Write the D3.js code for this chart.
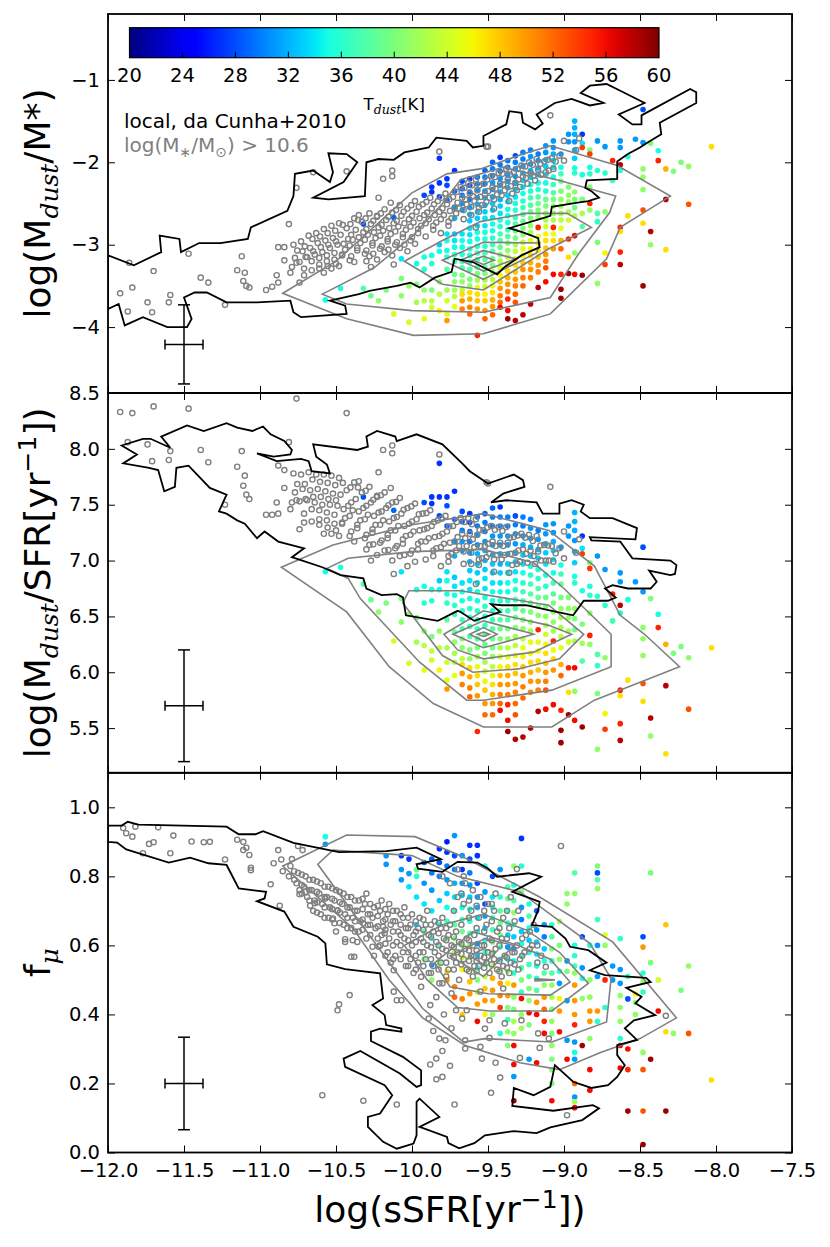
<!DOCTYPE html>
<html>
<head>
<meta charset="utf-8">
<script src="https://cdn.jsdelivr.net/npm/d3@7"></script>
<style>
  body { margin: 0; background: white; }
  text { font-family: "DejaVu Sans", sans-serif; }
</style>
</head>
<body>
<div id="container"></div>
<script>
// ---------- tick labels ----------
const xTicks = [-12, -11.5, -11, -10.5, -10, -9.5, -9, -8.5, -8, -7.5]
const yTicksTop = [-4, -3, -2, -1]
const yTicksMid = [5.5, 6, 6.5, 7, 7.5, 8, 8.5]
const yTicksBot = [0, 0.2, 0.4, 0.6, 0.8, 1.0]
const cbTicks = [20, 24, 28, 32, 36, 40, 44, 48, 52, 56, 60]

// ---------- local sample (da Cunha+2010): [log sSFR, log Mdust/M*] ----------
const localTop = [
  [-11.92,-3.59],[-11.84,-3.52],[-11.86,-3.22],[-11.87,-3.81],[-11.74,-3.70],[-11.71,-3.82],[-11.70,-3.32],
  [-11.60,-3.70],[-11.59,-3.61],[-11.47,-3.11],[-11.39,-3.40],[-11.34,-3.46],[-11.23,-3.73],[-11.12,-3.14],
  [-11.15,-3.31],[-11.10,-3.34],[-11.11,-3.44],[-11.09,-3.50],[-11.07,-3.52],[-10.96,-3.55],[-10.92,-3.51],
  [-10.89,-3.37],[-10.88,-3.46],[-10.88,-3.03],[-10.84,-3.03],[-10.84,-3.19],[-10.80,-3.34],[-10.74,-3.46],
  [-10.81,-2.75],[-10.76,-2.31],[-10.65,-2.12],[-10.43,-2.11],[-10.22,-2.43],[-10.19,-2.20],[-10.13,-2.10],
  [-10.13,-2.17],[-10.14,-2.49],[-10.35,-2.64],[-10.23,-2.65],[-9.82,-1.87],[-9.09,-1.43],[-9.51,-1.81],
  [-9.00,-1.74],[-8.90,-1.71],[-8.92,-1.85],[-9.50,-1.81],
  [-10.78,-3.00],[-10.77,-3.16],[-10.79,-3.27],[-10.73,-2.96],[-10.72,-3.08],[-10.74,-3.21],[-10.71,-3.37],
  [-10.68,-2.89],[-10.67,-3.04],[-10.69,-3.15],[-10.66,-3.31],[-10.63,-2.86],[-10.62,-2.98],[-10.64,-3.12],
  [-10.61,-3.24],[-10.58,-2.81],[-10.57,-2.95],[-10.59,-3.09],[-10.56,-3.20],[-10.58,-3.34],[-10.53,-2.77],
  [-10.52,-2.92],[-10.54,-3.04],[-10.51,-3.18],[-10.53,-3.29],[-10.48,-2.74],[-10.47,-2.88],[-10.49,-3.00],
  [-10.46,-3.13],[-10.48,-3.26],[-10.43,-2.80],[-10.42,-2.93],[-10.44,-3.06],[-10.41,-3.19],[-10.38,-2.68],
  [-10.37,-2.82],[-10.39,-2.94],[-10.36,-3.07],[-10.38,-3.21],[-10.33,-2.72],[-10.32,-2.85],[-10.34,-2.98],
  [-10.31,-3.11],[-10.28,-2.62],[-10.27,-2.75],[-10.29,-2.88],[-10.26,-3.01],[-10.28,-3.14],[-10.27,-3.27],
  [-10.23,-2.66],[-10.22,-2.79],[-10.24,-2.92],[-10.21,-3.05],[-10.23,-3.18],[-10.18,-2.57],[-10.17,-2.70],
  [-10.19,-2.83],[-10.16,-2.96],[-10.18,-3.09],[-10.13,-2.61],[-10.12,-2.74],[-10.14,-2.87],[-10.11,-3.00],
  [-10.13,-3.13],[-10.12,-3.24],[-10.08,-2.52],[-10.07,-2.65],[-10.09,-2.78],[-10.06,-2.91],[-10.08,-3.04],
  [-10.03,-2.56],[-10.02,-2.69],[-10.04,-2.82],[-10.01,-2.95],[-10.03,-3.08],[-9.98,-2.47],[-9.97,-2.60],
  [-9.99,-2.73],[-9.96,-2.86],[-9.98,-2.99],[-9.93,-2.51],[-9.92,-2.64],[-9.94,-2.77],[-9.91,-2.90],
  [-9.88,-2.43],[-9.87,-2.56],[-9.89,-2.69],[-9.86,-2.82],[-9.83,-2.47],[-9.82,-2.60],[-9.84,-2.73],
  [-9.81,-2.86],[-9.78,-2.38],[-9.77,-2.51],[-9.79,-2.64],[-9.76,-2.77],[-9.73,-2.42],[-9.72,-2.55],
  [-9.74,-2.68],[-9.68,-2.30],[-9.67,-2.43],[-9.69,-2.56],[-9.66,-2.69],[-9.63,-2.25],[-9.62,-2.38],
  [-9.64,-2.51],[-9.61,-2.64],[-9.58,-2.21],[-9.57,-2.34],[-9.59,-2.47],[-9.56,-2.60],[-9.58,-2.79],
  [-9.53,-2.26],[-9.52,-2.39],[-9.54,-2.52],[-9.48,-2.17],[-9.47,-2.30],[-9.49,-2.43],[-9.46,-2.56],
  [-9.43,-2.13],[-9.42,-2.26],[-9.44,-2.39],[-9.38,-2.08],[-9.37,-2.21],[-9.39,-2.34],[-9.36,-2.47],
  [-9.33,-2.12],[-9.32,-2.25],[-9.34,-2.38],[-9.28,-2.04],[-9.27,-2.17],[-9.29,-2.30],[-9.23,-2.00],
  [-9.22,-2.13],[-9.24,-2.26],[-9.18,-1.96],[-9.17,-2.09],[-9.19,-2.22],[-9.13,-1.99],[-9.12,-2.12],
  [-9.08,-1.95],[-9.07,-2.08],[-9.03,-1.92],
  [-10.755,-3.07],[-10.76,-3.22],[-10.705,-3.02],[-10.70,-3.15],[-10.71,-3.29],[-10.655,-2.93],[-10.65,-3.08],
  [-10.66,-3.20],[-10.605,-2.90],[-10.60,-3.03],[-10.61,-3.16],[-10.61,-3.29],[-10.555,-2.86],[-10.55,-3.00],
  [-10.56,-3.13],[-10.555,-3.26],[-10.505,-2.83],[-10.50,-2.96],[-10.51,-3.10],[-10.50,-3.23],[-10.455,-2.76],
  [-10.45,-2.99],[-10.46,-3.12],[-10.405,-2.75],[-10.40,-2.88],[-10.41,-3.01],[-10.40,-3.14],[-10.355,-2.70],
  [-10.35,-2.91],[-10.36,-3.04],[-10.305,-2.68],[-10.30,-2.81],[-10.31,-2.94],[-10.30,-3.07],[-10.30,-3.20],
  [-10.255,-2.71],[-10.25,-2.85],[-10.26,-2.98],[-10.255,-3.11],[-10.205,-2.62],[-10.20,-2.76],[-10.21,-2.89],
  [-10.20,-3.02],[-10.155,-2.66],[-10.15,-2.80],[-10.16,-2.93],[-10.155,-3.06],[-10.105,-2.58],[-10.10,-2.71],
  [-10.11,-2.84],[-10.10,-2.97],[-10.055,-2.60],[-10.05,-2.74],[-10.06,-2.87],[-10.05,-3.00],[-10.005,-2.52],
  [-10.00,-2.65],[-10.01,-2.78],[-10.00,-2.91],[-9.955,-2.54],[-9.95,-2.68],[-9.96,-2.81],[-9.905,-2.48],
  [-9.90,-2.61],[-9.91,-2.74],[-9.855,-2.51],[-9.85,-2.64],[-9.86,-2.77],[-9.805,-2.43],[-9.80,-2.56],
  [-9.81,-2.69],[-9.755,-2.45],[-9.75,-2.59],[-9.76,-2.72],[-9.705,-2.36],[-9.70,-2.49],[-9.71,-2.62],
  [-9.655,-2.31],[-9.65,-2.45],[-9.66,-2.58],[-9.605,-2.28],[-9.60,-2.41],[-9.61,-2.54],[-9.555,-2.28],
  [-9.55,-2.42],[-9.56,-2.55],[-9.505,-2.21],[-9.50,-2.35],[-9.51,-2.48],[-9.455,-2.18],[-9.45,-2.32],
  [-9.46,-2.45],[-9.405,-2.14],[-9.40,-2.27],[-9.41,-2.40],[-9.355,-2.15],[-9.35,-2.29],[-9.305,-2.08],
  [-9.30,-2.21],[-9.31,-2.34],[-9.255,-2.05],[-9.25,-2.19],[-9.205,-2.03],[-9.20,-2.16],[-9.155,-2.02],
  [-9.15,-2.15],[-9.105,-1.97],[-9.10,-2.10],[-9.055,-1.99],[-9.00,-1.98]
]

// ---------- local sample: [log sSFR, f_mu] ----------
const localBot = [
  [-11.90,0.940],[-11.88,0.925],[-11.84,0.915],[-11.82,0.944],[-11.77,0.867],[-11.73,0.894],[-11.70,0.899],
  [-11.67,0.942],[-11.59,0.867],[-11.57,0.918],[-11.45,0.901],[-11.37,0.899],[-11.33,0.900],[-11.23,0.849],
  [-11.15,0.906],[-11.11,0.900],[-11.11,0.876],[-11.09,0.883],[-11.07,0.862],[-11.06,0.825],[-11.06,0.818],
  [-10.93,0.777],[-10.88,0.876],[-10.87,0.715],[-10.91,0.838],[-10.86,0.849],[-10.85,0.815],[-10.79,0.850],
  [-10.75,0.888],[-10.72,0.876],[-10.74,0.748],[-10.70,0.755],[-10.67,0.715],[-10.64,0.722],[-10.57,0.736],
  [-10.52,0.678],[-10.51,0.664],[-10.49,0.702],[-10.44,0.618],[-10.44,0.610],[-10.39,0.615],[-10.40,0.567],
  [-10.38,0.567],[-10.41,0.456],[-10.48,0.429],[-10.49,0.412],[-10.59,0.166],[-10.32,0.150],[-10.10,0.139],
  [-9.72,0.139],[-10.12,0.528],[-10.12,0.466],[-10.10,0.441],[-10.07,0.441],[-9.94,0.509],[-9.88,0.427],
  [-9.89,0.388],[-9.86,0.352],[-9.82,0.330],[-9.78,0.325],[-9.88,0.255],[-9.84,0.272],[-9.80,0.294],
  [-9.75,0.251],[-9.84,0.212],[-9.80,0.219],[-9.82,0.490],[-9.80,0.490],[-9.74,0.461],[-9.71,0.412],
  [-9.67,0.388],[-9.65,0.301],[-10.26,0.596],[-10.22,0.596],[-10.18,0.635],[-10.32,0.664],[-10.29,0.659],
  [-10.19,0.654],[-9.02,0.888],[-9.31,0.821],[-8.33,0.396],[-8.98,0.108],[-9.48,0.173],[-9.42,0.217],
  [-9.29,0.274],[-9.45,0.260],[-9.54,0.272],[-9.55,0.306],[-9.65,0.325],[-9.52,0.359],[-9.49,0.332],
  [-9.49,0.383],[-9.16,0.303],[-9.10,0.330],[-9.17,0.345],[-9.28,0.383],[-9.39,0.374],[-9.12,0.538],
  [-9.40,0.475],[-9.55,0.466],[-9.64,0.412],[-9.80,0.800],[-9.75,0.780],[-9.70,0.820],[-9.66,0.800],
  [-10.80,0.830],[-10.81,0.800],[-10.75,0.810],[-10.76,0.780],[-10.74,0.760],[-10.70,0.800],[-10.71,0.770],
  [-10.69,0.740],[-10.65,0.790],[-10.66,0.760],[-10.64,0.730],[-10.65,0.700],[-10.60,0.780],[-10.61,0.750],
  [-10.59,0.720],[-10.60,0.690],[-10.55,0.770],[-10.56,0.740],[-10.54,0.710],[-10.55,0.680],[-10.50,0.760],
  [-10.51,0.730],[-10.49,0.700],[-10.50,0.640],[-10.45,0.750],[-10.46,0.720],[-10.44,0.690],[-10.45,0.660],
  [-10.40,0.740],[-10.41,0.710],[-10.39,0.680],[-10.40,0.650],[-10.35,0.730],[-10.36,0.700],[-10.34,0.670],
  [-10.35,0.640],[-10.36,0.610],[-10.30,0.750],[-10.31,0.720],[-10.29,0.690],[-10.30,0.620],[-10.25,0.710],
  [-10.26,0.680],[-10.24,0.650],[-10.25,0.570],[-10.20,0.730],[-10.21,0.700],[-10.19,0.670],[-10.20,0.630],
  [-10.21,0.600],[-10.15,0.720],[-10.16,0.690],[-10.14,0.660],[-10.15,0.620],[-10.16,0.580],[-10.14,0.550],
  [-10.10,0.700],[-10.11,0.670],[-10.09,0.640],[-10.10,0.610],[-10.11,0.570],[-10.05,0.710],[-10.06,0.680],
  [-10.04,0.650],[-10.05,0.620],[-10.06,0.580],[-10.04,0.540],[-10.00,0.690],[-10.01,0.660],[-9.99,0.630],
  [-10.00,0.600],[-10.01,0.560],[-9.99,0.520],[-9.95,0.680],[-9.96,0.650],[-9.94,0.620],[-9.95,0.580],
  [-9.96,0.550],[-9.94,0.480],[-9.90,0.700],[-9.91,0.660],[-9.89,0.630],[-9.90,0.600],[-9.91,0.560],
  [-9.89,0.520],[-9.85,0.670],[-9.86,0.640],[-9.84,0.610],[-9.85,0.580],[-9.86,0.540],[-9.84,0.450],
  [-9.80,0.680],[-9.81,0.650],[-9.79,0.620],[-9.80,0.590],[-9.81,0.550],[-9.79,0.400],[-9.75,0.660],
  [-9.76,0.630],[-9.74,0.600],[-9.75,0.570],[-9.76,0.530],[-9.74,0.360],[-9.70,0.740],[-9.71,0.640],
  [-9.69,0.610],[-9.70,0.580],[-9.71,0.550],[-9.69,0.500],[-9.65,0.780],[-9.66,0.720],[-9.64,0.620],
  [-9.65,0.590],[-9.66,0.560],[-9.64,0.530],[-9.60,0.760],[-9.61,0.700],[-9.59,0.630],[-9.60,0.600],
  [-9.61,0.570],[-9.59,0.540],[-9.60,0.510],[-9.55,0.740],[-9.56,0.680],[-9.54,0.600],[-9.55,0.570],
  [-9.56,0.540],[-9.50,0.720],[-9.51,0.660],[-9.49,0.620],[-9.50,0.580],[-9.51,0.550],[-9.49,0.520],
  [-9.45,0.750],[-9.46,0.700],[-9.44,0.640],[-9.45,0.590],[-9.46,0.560],[-9.44,0.530],[-9.40,0.680],
  [-9.41,0.620],[-9.39,0.570],[-9.40,0.540],[-9.41,0.510],[-9.35,0.740],[-9.36,0.650],[-9.34,0.580],
  [-9.35,0.550],[-9.36,0.520],[-9.30,0.700],[-9.31,0.600],[-9.29,0.560],[-9.30,0.530],[-9.25,0.630],
  [-9.26,0.580],[-9.20,0.660],[-9.21,0.600],[-9.15,0.570],
  [-10.775,0.815],[-10.775,0.790],[-10.725,0.805],[-10.725,0.775],[-10.725,0.750],[-10.675,0.790],[-10.675,0.760],
  [-10.675,0.730],[-10.625,0.785],[-10.625,0.755],[-10.625,0.725],[-10.625,0.695],[-10.575,0.770],[-10.575,0.740],
  [-10.575,0.710],[-10.575,0.680],[-10.525,0.765],[-10.525,0.735],[-10.525,0.705],[-10.525,0.675],[-10.475,0.755],
  [-10.475,0.725],[-10.475,0.695],[-10.475,0.665],[-10.425,0.740],[-10.425,0.710],[-10.425,0.680],[-10.425,0.650],
  [-10.375,0.730],[-10.375,0.700],[-10.375,0.670],[-10.375,0.640],[-10.325,0.735],[-10.325,0.705],[-10.325,0.675],
  [-10.325,0.645],[-10.275,0.720],[-10.275,0.690],[-10.275,0.660],[-10.275,0.630],[-10.225,0.715],[-10.225,0.685],
  [-10.225,0.655],[-10.225,0.620],[-10.175,0.705],[-10.175,0.675],[-10.175,0.645],[-10.175,0.605],[-10.175,0.570],
  [-10.125,0.700],[-10.125,0.670],[-10.125,0.640],[-10.125,0.600],[-10.125,0.560],[-10.075,0.690],[-10.075,0.660],
  [-10.075,0.630],[-10.075,0.600],[-10.075,0.560],[-10.025,0.680],[-10.025,0.650],[-10.025,0.615],[-10.025,0.580],
  [-10.025,0.540],[-9.975,0.670],[-9.975,0.640],[-9.975,0.610],[-9.975,0.570],[-9.975,0.530],[-9.925,0.675],
  [-9.925,0.645],[-9.925,0.610],[-9.925,0.580],[-9.925,0.540],[-9.875,0.660],[-9.875,0.625],[-9.875,0.595],
  [-9.875,0.560],[-9.875,0.520],[-9.825,0.665],[-9.825,0.635],[-9.825,0.600],[-9.825,0.570],[-9.825,0.530],
  [-9.775,0.650],[-9.775,0.615],[-9.775,0.585],[-9.775,0.550],[-9.775,0.510],[-9.725,0.700],[-9.725,0.625],
  [-9.725,0.595],[-9.725,0.565],[-9.725,0.530],[-9.675,0.750],[-9.675,0.660],[-9.675,0.605],[-9.675,0.575],
  [-9.675,0.545],[-9.625,0.730],[-9.625,0.680],[-9.625,0.615],[-9.625,0.585],[-9.625,0.555],[-9.625,0.525],
  [-9.575,0.715],[-9.575,0.650],[-9.575,0.585],[-9.575,0.555],[-9.575,0.525],[-9.525,0.700],[-9.525,0.640],
  [-9.525,0.600],[-9.525,0.565],[-9.525,0.535],[-9.475,0.720],[-9.475,0.670],[-9.475,0.615],[-9.475,0.575],
  [-9.475,0.545],[-9.425,0.650],[-9.425,0.600],[-9.425,0.555],[-9.425,0.525],[-9.375,0.700],[-9.375,0.620],
  [-9.375,0.565],[-9.375,0.535],[-9.325,0.670],[-9.325,0.580],[-9.325,0.545],[-9.275,0.620],[-9.275,0.570],
  [-9.225,0.640],[-9.225,0.590],[-9.175,0.600],[-9.175,0.550]
]

// ---------- high-z sample, columns: [log sSFR, [[log Mdust/M*, Tdust], ...]] ----------
const hzTop = [
  [-10.57, [[-3.67,35]]],
  [-10.47, [[-3.53,35]]],
  [-10.32, [[-2.75,28],[-3.53,38]]],
  [-10.27, [[-3.62,39]]],
  [-10.22, [[-3.68,41]]],
  [-10.17, [[-3.55,40]]],
  [-10.12, [[-2.67,29],[-3.84,44]]],
  [-10.07, [[-3.17,34],[-3.41,40],[-3.62,41]]],
  [-10.02, [[-3.50,41],[-3.94,44]]],
  [-9.97, [[-3.23,35],[-3.48,40],[-3.70,42]]],
  [-9.92, [[-2.40,28],[-3.15,35],[-3.30,36],[-3.55,41],[-3.68,43],[-3.90,45]]],
  [-9.87, [[-2.30,27],[-2.36,27],[-3.13,35],[-3.23,36],[-3.55,40],[-3.68,43],[-3.76,44]]],
  [-9.82, [[-1.95,27],[-2.25,27],[-2.42,28],[-3.00,33],[-3.08,35],[-3.45,41],[-3.60,43],[-3.80,46]]],
  [-9.77, [[-2.20,27],[-2.28,28],[-2.46,29],[-2.87,34],[-2.95,35],[-3.07,35],[-3.15,36],[-3.30,38],[-3.55,42],[-3.68,44],[-3.84,45],[-3.92,50]]],
  [-9.72, [[-2.10,27],[-2.35,29],[-2.55,31],[-2.68,32],[-2.87,33],[-2.95,34],[-3.03,35],[-3.12,36],[-3.20,37],[-3.36,39],[-3.45,41],[-3.55,42],[-3.63,43],[-3.75,45]]],
  [-9.67, [[-2.23,28],[-2.32,29],[-2.40,30],[-2.50,31],[-2.58,31],[-2.87,34],[-2.95,35],[-3.03,35],[-3.12,36],[-3.20,37],[-3.28,38],[-3.37,40],[-3.45,41],[-3.55,43],[-3.60,47],[-3.68,50],[-3.78,51]]],
  [-9.62, [[-2.20,27],[-2.28,28],[-2.36,29],[-2.45,30],[-2.55,31],[-2.63,32],[-2.71,33],[-2.80,34],[-2.88,34],[-2.96,35],[-3.05,36],[-3.13,36],[-3.21,37],[-3.30,38],[-3.42,40],[-3.50,41],[-3.58,47],[-3.66,49],[-3.76,51],[-3.84,52]]],
  [-9.57, [[-2.18,30],[-2.26,30],[-2.34,31],[-2.43,31],[-2.51,32],[-2.60,33],[-2.68,33],[-2.77,34],[-2.85,35],[-2.93,35],[-3.02,36],[-3.10,37],[-3.18,37],[-3.27,38],[-3.35,40],[-3.43,42],[-3.52,45],[-3.60,47],[-3.68,48],[-3.78,50],[-4.10,55]]],
  [-9.52, [[-2.10,29],[-2.18,30],[-2.26,30],[-2.35,31],[-2.43,32],[-2.52,32],[-2.60,33],[-2.68,34],[-2.77,34],[-2.85,35],[-2.93,36],[-3.02,36],[-3.10,37],[-3.18,38],[-3.27,39],[-3.35,40],[-3.43,42],[-3.51,44],[-3.60,46],[-3.68,48],[-3.80,50],[-3.90,52]]],
  [-9.47, [[-2.00,29],[-2.08,30],[-2.16,30],[-2.25,31],[-2.33,31],[-2.42,32],[-2.50,33],[-2.58,33],[-2.67,34],[-2.75,35],[-2.83,35],[-2.92,36],[-3.00,37],[-3.08,38],[-3.17,39],[-3.25,40],[-3.33,41],[-3.42,43],[-3.50,45],[-3.58,47],[-3.67,49],[-3.75,50],[-3.85,52]]],
  [-9.42, [[-1.94,27],[-2.03,30],[-2.11,30],[-2.20,31],[-2.28,31],[-2.36,32],[-2.45,32],[-2.53,33],[-2.62,34],[-2.70,35],[-2.78,36],[-2.87,37],[-2.95,38],[-3.03,39],[-3.12,40],[-3.20,42],[-3.28,44],[-3.37,46],[-3.45,48],[-3.53,50],[-3.62,51],[-3.70,52],[-3.76,56]]],
  [-9.37, [[-1.98,30],[-2.06,30],[-2.15,31],[-2.23,31],[-2.31,32],[-2.40,33],[-2.48,34],[-2.57,35],[-2.65,35],[-2.73,36],[-2.82,37],[-2.90,38],[-2.98,40],[-3.07,41],[-3.15,43],[-3.23,45],[-3.32,47],[-3.40,49],[-3.48,50],[-3.57,51],[-3.66,55],[-3.80,56],[-3.90,59]]],
  [-9.32, [[-1.92,28],[-2.00,30],[-2.08,31],[-2.17,31],[-2.25,32],[-2.33,33],[-2.42,34],[-2.50,35],[-2.58,36],[-2.67,37],[-2.75,38],[-2.83,39],[-2.92,40],[-3.00,42],[-3.08,43],[-3.17,45],[-3.25,47],[-3.33,48],[-3.42,50],[-3.50,51],[-3.60,52],[-3.70,53],[-3.92,58]]],
  [-9.27, [[-1.88,30],[-1.96,30],[-2.05,31],[-2.13,32],[-2.22,33],[-2.30,34],[-2.38,35],[-2.47,36],[-2.55,37],[-2.63,38],[-2.72,39],[-2.80,40],[-2.88,41],[-2.97,43],[-3.05,45],[-3.13,46],[-3.22,48],[-3.30,50],[-3.40,51],[-3.50,52],[-3.85,58]]],
  [-9.22, [[-1.85,30],[-1.93,31],[-2.02,31],[-2.10,32],[-2.18,33],[-2.27,35],[-2.35,36],[-2.43,37],[-2.52,38],[-2.60,39],[-2.68,40],[-2.77,41],[-2.85,42],[-2.95,45],[-3.05,46],[-3.13,47],[-3.22,49],[-3.30,50],[-3.40,51],[-3.72,58]]],
  [-9.17, [[-1.90,30],[-1.98,31],[-2.07,32],[-2.15,33],[-2.25,35],[-2.33,36],[-2.42,38],[-2.50,39],[-2.58,40],[-2.66,41],[-2.79,55],[-2.90,45],[-2.98,46],[-3.07,47],[-3.15,48],[-3.25,50],[-3.33,51],[-3.52,58]]],
  [-9.12, [[-1.80,31],[-1.88,31],[-1.97,32],[-2.05,33],[-2.15,34],[-2.25,35],[-2.35,36],[-2.45,39],[-2.53,40],[-2.62,41],[-2.70,42],[-2.78,44],[-2.87,46],[-2.95,47],[-3.04,48],[-3.12,50],[-3.20,51],[-3.28,53],[-3.45,56]]],
  [-9.07, [[-1.74,31],[-1.82,31],[-1.90,32],[-1.98,33],[-2.06,34],[-2.18,35],[-2.27,37],[-2.37,38],[-2.45,40],[-2.53,41],[-2.62,41],[-2.70,42],[-2.79,55],[-2.87,45],[-2.95,47],[-3.05,50],[-3.36,56]]],
  [-9.02, [[-1.90,31],[-2.06,35],[-2.14,37],[-2.23,39],[-2.35,40],[-2.45,41],[-2.53,42],[-2.62,42],[-2.70,43],[-2.80,45],[-2.95,49],[-3.05,52],[-3.36,55],[-3.54,59],[-3.65,59]]],
  [-8.97, [[-1.66,31],[-1.75,31],[-2.30,40],[-2.40,41],[-2.48,41],[-2.60,42],[-2.70,44],[-2.93,55],[-3.15,47],[-3.35,59]]],
  [-8.93, [[-1.50,32],[-1.58,32],[-1.66,32],[-1.75,31],[-1.85,32],[-1.95,33],[-2.07,35],[-2.13,36],[-2.36,41],[-2.45,40],[-2.55,39],[-2.65,42],[-2.89,56],[-3.10,41],[-3.36,56]]],
  [-8.88, [[-1.66,27],[-1.77,34],[-1.82,54],[-2.15,35],[-2.45,40],[-2.62,42],[-2.78,38],[-3.37,59]]],
  [-8.83, [[-1.85,40],[-1.90,54],[-2.06,35],[-2.14,36],[-2.30,41],[-2.50,55],[-2.58,41]]],
  [-8.78, [[-1.74,31],[-2.10,36],[-2.62,38],[-2.72,36],[-2.97,40],[-3.47,41]]],
  [-8.73, [[-1.81,31],[-2.13,36],[-2.60,41],[-3.10,46],[-3.24,54]]],
  [-8.68, [[-1.98,55],[-2.22,37]]],
  [-8.63, [[-1.74,31],[-1.82,31],[-2.03,58],[-2.10,36],[-2.79,55],[-2.84,47],[-3.09,55],[-3.24,58]]],
  [-8.58, [[-1.93,35],[-2.65,47]]],
  [-8.53, [[-1.72,31]]],
  [-8.48, [[-1.36,28],[-1.76,31],[-2.08,41],[-2.18,41],[-2.33,41],[-2.58,53],[-2.74,47],[-3.50,59]]],
  [-8.43, [[-1.77,40],[-2.84,58],[-3.00,41]]],
  [-8.38, [[-1.86,35],[-1.98,55]]],
  [-8.33, [[-2.08,49],[-2.45,58],[-3.06,47]]],
  [-8.28, [[-2.11,40]]],
  [-8.23, [[-2.00,40]]],
  [-8.18, [[-2.05,41],[-2.51,53]]],
  [-8.03, [[-1.81,47]]]
]

// ---------- high-z sample, columns: [log sSFR, [[f_mu, Tdust], ...]] ----------
const hzBot = [
  [-10.57, [[0.915,35],[0.893,31]]],
  [-10.17, [[0.860,31],[0.835,31]]],
  [-10.07, [[0.860,27],[0.820,31],[0.790,31]]],
  [-10.02, [[0.850,27],[0.808,31],[0.770,34]]],
  [-9.97, [[0.820,39],[0.800,36],[0.740,34],[0.660,33]]],
  [-9.92, [[0.840,28],[0.780,31],[0.720,34],[0.640,38],[0.560,40]]],
  [-9.87, [[0.850,29],[0.810,30],[0.760,31],[0.700,34],[0.620,36],[0.543,31],[0.500,41]]],
  [-9.82, [[0.880,27],[0.840,28],[0.800,30],[0.730,33],[0.660,35],[0.600,38],[0.550,40]]],
  [-9.77, [[0.900,26],[0.870,27],[0.830,30],[0.790,31],[0.750,33],[0.710,35],[0.670,37],[0.620,40],[0.524,47],[0.500,50]]],
  [-9.72, [[0.918,31],[0.860,28],[0.820,30],[0.780,32],[0.740,34],[0.700,36],[0.660,38],[0.620,40],[0.580,42],[0.480,51],[0.450,52]]],
  [-9.67, [[0.860,31],[0.820,27],[0.780,31],[0.745,33],[0.710,35],[0.675,37],[0.640,39],[0.600,41],[0.565,44],[0.530,46],[0.445,51],[0.400,48]]],
  [-9.62, [[0.890,27],[0.850,28],[0.810,30],[0.775,31],[0.740,33],[0.705,35],[0.670,36],[0.635,38],[0.600,41],[0.565,43],[0.530,45],[0.495,48],[0.460,50]]],
  [-9.57, [[0.890,27],[0.860,27],[0.780,28],[0.740,31],[0.710,32],[0.680,34],[0.640,35],[0.605,31],[0.570,33],[0.535,36],[0.500,40],[0.465,44],[0.430,50],[0.380,56]]],
  [-9.52, [[0.830,35],[0.755,31],[0.720,28],[0.685,31],[0.650,33],[0.615,35],[0.580,36],[0.545,38],[0.510,43],[0.475,48],[0.440,50],[0.400,46]]],
  [-9.47, [[0.800,28],[0.740,34],[0.710,35],[0.680,36],[0.645,37],[0.610,40],[0.575,41],[0.540,43],[0.505,49],[0.470,50],[0.440,49],[0.400,41]]],
  [-9.42, [[0.820,31],[0.740,36],[0.700,38],[0.665,39],[0.630,40],[0.595,37],[0.560,35],[0.525,41],[0.490,50],[0.455,51],[0.420,54],[0.345,36]]],
  [-9.37, [[0.770,38],[0.735,39],[0.700,37],[0.665,36],[0.630,33],[0.595,31],[0.560,35],[0.525,41],[0.490,46],[0.455,50],[0.420,40],[0.385,37],[0.350,41],[0.310,40]]],
  [-9.33, [[0.830,41],[0.775,35],[0.730,38],[0.695,41],[0.660,36],[0.625,33],[0.590,31],[0.555,35],[0.520,36],[0.485,50],[0.450,41],[0.415,40],[0.380,42],[0.345,41],[0.310,56],[0.255,56],[0.220,31],[0.150,59]]],
  [-9.28, [[0.910,27],[0.830,36],[0.755,40],[0.710,31],[0.675,30],[0.640,33],[0.605,35],[0.570,36],[0.535,38],[0.500,40],[0.465,37],[0.446,56],[0.400,41],[0.360,42]]],
  [-9.23, [[0.720,36],[0.685,38],[0.650,35],[0.615,33],[0.580,35],[0.545,37],[0.510,38],[0.475,40],[0.440,41],[0.405,56],[0.370,40],[0.270,31]]],
  [-9.18, [[0.700,29],[0.645,31],[0.610,33],[0.575,34],[0.540,35],[0.505,36],[0.470,38],[0.435,50],[0.400,56],[0.260,56]]],
  [-9.13, [[0.660,31],[0.625,30],[0.590,33],[0.555,36],[0.520,38],[0.485,41],[0.450,50],[0.415,52],[0.380,55],[0.345,56]]],
  [-9.08, [[0.660,36],[0.625,38],[0.590,40],[0.555,36],[0.520,38],[0.485,41],[0.450,42],[0.415,40],[0.380,41],[0.345,40],[0.310,41],[0.270,40],[0.240,40],[0.200,40],[0.150,56]]],
  [-9.03, [[0.670,42],[0.600,40],[0.560,41],[0.525,36],[0.490,31],[0.446,46],[0.410,50],[0.350,56]]],
  [-8.98, [[0.750,41],[0.720,41],[0.555,31],[0.525,40],[0.440,31],[0.325,31],[0.270,56]]],
  [-8.93, [[0.810,38],[0.750,41],[0.600,35],[0.570,36],[0.540,37],[0.520,41],[0.485,50],[0.440,50],[0.400,50],[0.370,55],[0.320,31],[0.290,35],[0.270,31],[0.200,52],[0.161,31],[0.147,42],[0.130,56]]],
  [-8.88, [[0.625,28],[0.535,31],[0.505,35],[0.446,41],[0.310,59]]],
  [-8.83, [[0.600,36],[0.500,41],[0.450,41],[0.410,50],[0.380,50],[0.330,41],[0.240,56],[0.180,56]]],
  [-8.78, [[0.830,40],[0.810,28],[0.790,38],[0.765,41],[0.675,37],[0.600,31],[0.510,31],[0.410,50],[0.380,36]]],
  [-8.73, [[0.630,45],[0.600,41],[0.500,55],[0.420,36]]],
  [-8.68, [[0.540,31],[0.500,31]]],
  [-8.63, [[0.620,36],[0.530,31],[0.490,31],[0.455,41],[0.420,41],[0.380,41],[0.330,36],[0.310,56],[0.245,56]]],
  [-8.58, [[0.510,36],[0.445,28],[0.300,56],[0.240,55],[0.120,59]]],
  [-8.53, [[0.460,46],[0.435,41],[0.400,41]]],
  [-8.48, [[0.625,28],[0.595,50],[0.520,36],[0.495,41],[0.465,36],[0.290,41],[0.240,53],[0.120,53],[0.023,59]]],
  [-8.43, [[0.810,40],[0.550,40],[0.270,59]]],
  [-8.38, [[0.500,44],[0.410,56]]],
  [-8.33, [[0.660,48],[0.350,47],[0.120,59]]],
  [-8.28, [[0.345,41]]],
  [-8.23, [[0.470,40]]],
  [-8.18, [[0.540,41],[0.345,53]]],
  [-8.03, [[0.210,47]]]
]

// ---------- contours ----------
const topBlack = [
  [-12.00,-3.13],[-11.83,-3.25],[-11.65,-3.09],[-11.66,-2.89],[-11.53,-2.93],[-11.52,-3.09],[-11.40,-2.98],
  [-11.26,-2.98],[-11.08,-2.93],[-11.06,-2.79],[-10.82,-2.59],[-10.78,-2.41],[-10.77,-2.14],[-10.65,-2.10],
  [-10.54,-2.24],[-10.52,-2.12],[-10.55,-1.89],[-10.43,-1.90],[-10.36,-2.00],[-10.45,-2.24],[-10.65,-2.43],
  [-10.55,-2.45],[-10.31,-2.41],[-10.30,-2.00],[-10.22,-1.96],[-10.12,-1.97],[-10.05,-1.88],[-9.89,-1.82],
  [-9.84,-1.70],[-9.64,-1.74],[-9.60,-1.82],[-9.53,-1.80],[-9.53,-1.68],[-9.38,-1.54],[-9.36,-1.38],
  [-9.28,-1.40],[-9.27,-1.52],[-9.19,-1.60],[-9.14,-1.53],[-9.18,-1.42],[-9.06,-1.28],[-8.95,-1.23],
  [-8.83,-1.31],[-8.74,-1.28],[-8.89,-1.16],[-8.83,-1.07],[-8.72,-1.05],[-8.61,-1.15],[-8.47,-1.28],
  [-8.64,-1.42],[-8.55,-1.54],[-8.49,-1.54],[-8.49,-1.43],[-8.17,-1.11],[-8.13,-1.15],[-8.13,-1.28],
  [-8.37,-1.52],[-8.36,-1.66],[-8.45,-1.76],[-8.50,-1.82],[-8.58,-1.90],[-8.65,-1.99],[-8.65,-2.20],
  [-8.85,-2.22],[-8.86,-2.31],[-8.82,-2.35],[-8.77,-2.43],[-8.84,-2.47],[-8.91,-2.49],[-9.08,-2.54],
  [-9.09,-2.65],[-9.16,-2.69],[-9.36,-2.80],[-9.27,-2.85],[-9.17,-2.92],[-9.16,-3.03],[-9.28,-3.13],
  [-9.39,-3.27],[-9.44,-3.36],[-9.60,-3.21],[-9.72,-3.17],[-9.74,-3.33],[-9.85,-3.40],[-9.95,-3.52],
  [-10.01,-3.46],[-10.10,-3.50],[-10.28,-3.56],[-10.35,-3.60],[-10.54,-3.68],[-10.44,-3.74],[-10.43,-3.84],
  [-10.73,-3.88],[-10.78,-3.82],[-10.80,-3.68],[-11.02,-3.70],[-11.22,-3.70],[-11.35,-3.58],[-11.43,-3.58],
  [-11.50,-3.64],[-11.45,-3.90],[-11.48,-4.00],[-11.61,-4.00],[-11.77,-3.88],[-11.89,-3.98],[-11.93,-3.72],
  [-12.00,-3.78]
]
const topGrey = [
  [[-10.85,-3.59],[-10.50,-3.20],[-10.20,-2.70],[-10.00,-2.37],[-9.77,-2.14],[-9.55,-2.08],[-9.27,-1.90],
   [-9.09,-1.80],[-8.65,-2.04],[-8.30,-2.41],[-8.63,-2.79],[-8.72,-3.17],[-9.09,-3.84],[-9.53,-4.08],
   [-9.99,-4.10],[-10.43,-3.90]],
  [[-10.59,-3.60],[-10.25,-3.28],[-10.00,-2.90],[-9.80,-2.50],[-9.68,-2.21],[-9.40,-2.06],[-9.03,-2.22],
   [-8.66,-2.41],[-8.70,-2.61],[-8.90,-3.10],[-9.09,-3.64],[-9.53,-3.82],[-10.00,-3.80],[-10.43,-3.72]],
  [[-10.05,-3.20],[-9.80,-2.95],[-9.55,-2.72],[-9.25,-2.62],[-8.98,-2.62],[-8.82,-2.79],[-9.10,-3.05],
   [-9.53,-3.55],[-9.80,-3.48]],
  [[-9.80,-3.19],[-9.53,-2.97],[-9.16,-2.98],[-9.18,-3.10],[-9.53,-3.42]],
  [[-9.68,-3.19],[-9.53,-3.07],[-9.32,-3.17],[-9.53,-3.32]],
  [[-9.60,-3.19],[-9.53,-3.14],[-9.46,-3.19],[-9.53,-3.24]]
]
const midBlack = [
  [-11.91,8.03],[-11.77,8.09],[-11.72,8.09],[-11.59,8.01],[-11.65,8.11],[-11.48,8.21],[-11.37,8.16],
  [-11.22,8.23],[-11.15,8.19],[-11.05,8.16],[-10.98,8.20],[-10.93,8.13],[-10.84,8.07],[-10.79,7.99],
  [-10.80,7.95],[-10.91,7.93],[-11.02,7.96],[-10.89,7.89],[-10.73,7.91],[-10.68,7.89],[-10.66,7.80],
  [-10.54,7.78],[-10.56,7.86],[-10.63,7.93],[-10.65,8.04],[-10.36,7.99],[-10.29,8.02],[-10.30,8.11],
  [-10.23,8.16],[-10.11,8.11],[-10.10,8.07],[-9.97,8.13],[-9.80,8.04],[-9.67,7.87],[-9.62,7.80],
  [-9.50,7.69],[-9.33,7.77],[-9.27,7.72],[-9.26,7.66],[-9.40,7.60],[-9.48,7.52],[-9.38,7.54],
  [-9.18,7.52],[-9.14,7.42],[-9.03,7.42],[-9.03,7.51],[-8.95,7.54],[-8.87,7.50],[-8.89,7.44],
  [-8.83,7.38],[-8.68,7.38],[-8.52,7.29],[-8.53,7.19],[-8.83,7.21],[-8.82,7.18],[-8.63,7.17],
  [-8.55,7.02],[-8.30,7.00],[-8.26,6.96],[-8.27,6.88],[-8.30,6.87],[-8.44,6.91],[-8.39,6.81],
  [-8.43,6.75],[-8.58,6.75],[-8.68,6.78],[-8.73,6.75],[-8.66,6.67],[-8.71,6.64],[-8.87,6.64],
  [-8.94,6.51],[-9.08,6.55],[-9.25,6.60],[-9.41,6.60],[-9.48,6.61],[-9.42,6.54],[-9.59,6.46],
  [-9.68,6.54],[-9.70,6.55],[-9.83,6.46],[-10.04,6.51],[-10.06,6.67],[-10.10,6.70],[-10.20,6.69],
  [-10.30,6.75],[-10.32,6.84],[-10.47,6.87],[-10.59,6.94],[-10.79,7.03],[-10.71,7.11],[-10.88,7.17],
  [-10.97,7.26],[-11.02,7.20],[-11.10,7.33],[-11.15,7.36],[-11.22,7.42],[-11.27,7.44],[-11.22,7.59],
  [-11.33,7.65],[-11.47,7.85],[-11.55,7.83],[-11.56,7.66],[-11.63,7.62],[-11.67,7.81],[-11.73,7.83],
  [-11.90,7.87],[-11.81,7.95]
]
const midGrey = [
  [[-10.86,6.94],[-10.52,7.14],[-10.00,7.32],[-9.53,7.42],[-9.10,7.27],[-8.80,6.95],[-8.63,6.51],
   [-8.47,6.34],[-8.24,6.05],[-8.80,5.75],[-9.08,5.51],[-9.53,5.51],[-9.86,5.72],[-10.15,6.05],[-10.43,6.54]],
  [[-10.56,6.93],[-10.42,7.02],[-10.00,7.08],[-9.53,7.10],[-9.20,6.98],[-9.00,6.75],[-8.69,6.34],
   [-8.69,6.05],[-9.08,5.84],[-9.53,5.75],[-9.64,5.75],[-9.95,6.09],[-10.34,6.66],[-10.42,6.84]],
  [[-10.02,6.73],[-9.68,6.73],[-9.10,6.60],[-8.87,6.34],[-9.03,6.12],[-9.30,6.03],[-9.60,6.00],
   [-9.80,6.15],[-10.06,6.62]],
  [[-9.79,6.34],[-9.53,6.55],[-9.10,6.42],[-8.95,6.34],[-9.20,6.18],[-9.53,6.12],[-9.70,6.20]],
  [[-9.73,6.34],[-9.53,6.46],[-9.25,6.36],[-9.20,6.34],[-9.53,6.22]],
  [[-9.62,6.34],[-9.53,6.40],[-9.44,6.34],[-9.53,6.28]],
  [[-9.57,6.34],[-9.53,6.36],[-9.49,6.34],[-9.53,6.32]]
]
const botBlack = [
  [-12.00,0.947],[-11.91,0.947],[-11.87,0.958],[-11.80,0.950],[-11.22,0.944],[-11.14,0.922],[-11.03,0.922],
  [-10.98,0.931],[-10.78,0.897],[-10.48,0.870],[-10.17,0.873],[-9.97,0.883],[-9.81,0.850],[-9.97,0.835],
  [-9.96,0.822],[-9.80,0.813],[-9.70,0.842],[-9.57,0.840],[-9.50,0.823],[-9.44,0.799],[-9.23,0.809],
  [-9.15,0.799],[-9.34,0.755],[-9.22,0.736],[-9.16,0.726],[-9.17,0.702],[-9.21,0.659],[-9.08,0.654],
  [-8.99,0.620],[-8.96,0.596],[-8.84,0.586],[-8.72,0.550],[-8.83,0.528],[-8.73,0.514],[-8.46,0.506],
  [-8.43,0.494],[-8.59,0.477],[-8.49,0.451],[-8.53,0.432],[-8.40,0.398],[-8.54,0.383],[-8.60,0.360],
  [-8.52,0.326],[-8.65,0.311],[-8.65,0.282],[-8.60,0.253],[-8.65,0.219],[-8.71,0.195],[-8.82,0.187],
  [-8.94,0.205],[-9.06,0.253],[-9.09,0.190],[-9.20,0.166],[-9.33,0.187],[-9.34,0.135],[-9.07,0.121],
  [-8.81,0.137],[-8.77,0.128],[-8.88,0.094],[-9.09,0.073],[-9.18,0.056],[-9.33,0.062],[-9.52,0.050],
  [-9.59,0.027],[-9.69,0.012],[-9.76,0.027],[-9.77,0.045],[-9.95,0.074],[-9.82,0.103],[-9.95,0.156],
  [-9.97,0.147],[-9.97,0.050],[-9.99,0.026],[-10.10,0.011],[-10.19,0.031],[-10.29,0.074],[-10.29,0.103],
  [-10.21,0.113],[-10.13,0.166],[-10.18,0.195],[-10.44,0.248],[-10.45,0.272],[-10.34,0.294],[-10.08,0.229],
  [-9.97,0.190],[-9.94,0.195],[-9.94,0.238],[-10.06,0.277],[-10.27,0.323],[-10.27,0.350],[-10.21,0.359],
  [-10.07,0.350],[-10.07,0.359],[-10.17,0.369],[-10.18,0.398],[-10.26,0.427],[-10.19,0.446],[-10.21,0.519],
  [-10.44,0.531],[-10.56,0.545],[-10.57,0.606],[-10.62,0.625],[-10.78,0.654],[-10.84,0.698],[-11.02,0.728],
  [-10.97,0.736],[-10.96,0.755],[-11.14,0.765],[-11.22,0.833],[-11.34,0.838],[-11.46,0.854],[-11.60,0.840],
  [-11.88,0.878],[-11.94,0.898],[-12.00,0.900]
]
const botGrey = [
  [[-10.85,0.830],[-10.43,0.920],[-9.98,0.915],[-9.68,0.860],[-9.16,0.740],[-8.68,0.610],[-8.26,0.390],
   [-8.50,0.330],[-8.76,0.290],[-9.03,0.240],[-9.29,0.260],[-9.65,0.310],[-9.93,0.390],[-10.15,0.500],[-10.39,0.650]],
  [[-10.62,0.835],[-10.52,0.876],[-10.00,0.860],[-9.70,0.800],[-9.29,0.755],[-8.83,0.606],[-8.69,0.504],
   [-8.72,0.378],[-9.08,0.320],[-9.52,0.330],[-9.66,0.320],[-9.93,0.417],[-10.36,0.678]],
  [[-10.05,0.600],[-9.80,0.660],[-9.53,0.690],[-9.25,0.645],[-9.03,0.580],[-8.84,0.490],[-9.08,0.410],
   [-9.49,0.410],[-9.70,0.420],[-9.90,0.500]],
  [[-9.85,0.550],[-9.60,0.640],[-9.30,0.600],[-9.09,0.560],[-8.96,0.494],[-9.09,0.456],[-9.50,0.460],[-9.75,0.480]],
  [[-9.75,0.570],[-9.53,0.510],[-9.33,0.600],[-9.52,0.620]],
  [[-9.62,0.570],[-9.53,0.545],[-9.45,0.580],[-9.53,0.590]],
  [[-9.19,0.497],[-9.06,0.500],[-9.19,0.503]]
]

// ---------- typical error bars ----------
const errX = -11.5, errXerr = 0.125
const errTop = [-4.21, 0.48]
const errMid = [5.70, 0.50]
const errBot = [0.20, 0.134]

// ---------- layout ----------
const w = 830, h = 1247
const left = 108, right = 792
const edges = [14, 393, 772.8, 1152.5]

const svg = d3.select('#container').append('svg')
  .attr('width', w).attr('height', h)
  .style('background', 'white')

const x = d3.scaleLinear().domain([-12, -7.5]).range([left, right])
const yTop = d3.scaleLinear().domain([-4.8, -0.2]).range([edges[1], edges[0]])
const yMid = d3.scaleLinear().domain([5.1, 8.5]).range([edges[2], edges[1]])
const yBot = d3.scaleLinear().domain([0, 1.1]).range([edges[3], edges[2]])

// matplotlib "jet"
const jetR = d3.scaleLinear().domain([0, 0.35, 0.66, 0.89, 1]).range([0, 0, 1, 1, 0.5]).clamp(true)
const jetG = d3.scaleLinear().domain([0, 0.125, 0.375, 0.64, 0.91, 1]).range([0, 0, 1, 1, 0, 0]).clamp(true)
const jetB = d3.scaleLinear().domain([0, 0.11, 0.34, 0.65, 1]).range([0.5, 1, 1, 0, 0]).clamp(true)
const jet = t => d3.rgb(jetR(t) * 255, jetG(t) * 255, jetB(t) * 255).formatHex()
const tNorm = d3.scaleLinear().domain([20, 60]).range([0, 1]).clamp(true)

const flatCols = cols => cols.flatMap(c => c[1].map(p => [c[0], p[0], p[1]]))
const hzTopPts = flatCols(hzTop)
const hzBotPts = flatCols(hzBot)

// log(Mdust/SFR) = log(Mdust/M*) - log(sSFR)
const toMid = d => d[1] - d[0]

const defs = svg.append('defs')
const panels = [
  { y: yTop, ticks: yTicksTop, fmt: d3.format('d'), local: localTop, lv: d => d[1], hz: hzTopPts, hv: d => d[1],
    black: topBlack, grey: topGrey, err: errTop },
  { y: yMid, ticks: yTicksMid, fmt: d3.format('.1f'), local: localTop, lv: toMid, hz: hzTopPts, hv: toMid,
    black: midBlack, grey: midGrey, err: errMid },
  { y: yBot, ticks: yTicksBot, fmt: d3.format('.1f'), local: localBot, lv: d => d[1], hz: hzBotPts, hv: d => d[1],
    black: botBlack, grey: botGrey, err: errBot }
]

const line = (y) => d3.line().x(d => x(d[0])).y(d => y(d[1]))

panels.forEach((p, i) => {
  const top = edges[i], bottom = edges[i + 1]
  defs.append('clipPath').attr('id', 'clip' + i)
    .append('rect').attr('x', left).attr('y', top).attr('width', right - left).attr('height', bottom - top)

  const g = svg.append('g').attr('clip-path', `url(#clip${i})`)

  g.selectAll('circle.hz').data(p.hz).enter().append('circle')
    .attr('class', 'hz')
    .attr('cx', d => x(d[0])).attr('cy', d => p.y(p.hv(d)))
    .attr('r', 2.8)
    .attr('fill', d => jet(tNorm(d[2])))

  g.selectAll('circle.local').data(p.local).enter().append('circle')
    .attr('class', 'local')
    .attr('cx', d => x(d[0])).attr('cy', d => p.y(p.lv(d)))
    .attr('r', 2.6)
    .attr('fill', 'none').attr('stroke', '#808080').attr('stroke-width', 1.4)

  g.selectAll('path.grey').data(p.grey).enter().append('path')
    .attr('class', 'grey')
    .attr('d', d => line(p.y)(d) + 'Z')
    .attr('fill', 'none').attr('stroke', '#808080').attr('stroke-width', 1.6)

  g.append('path')
    .attr('d', line(p.y)(p.black) + 'Z')
    .attr('fill', 'none').attr('stroke', 'black').attr('stroke-width', 1.8)

  // error bar
  const ex = x(errX), ey = p.y(p.err[0])
  const y0 = p.y(p.err[0] - p.err[1]), y1 = p.y(p.err[0] + p.err[1])
  const x0 = x(errX - errXerr), x1 = x(errX + errXerr)
  const eb = svg.append('g').attr('stroke', 'black').attr('stroke-width', 1.5)
  eb.append('line').attr('x1', ex).attr('x2', ex).attr('y1', y0).attr('y2', y1)
  eb.append('line').attr('x1', x0).attr('x2', x1).attr('y1', ey).attr('y2', ey)
  eb.append('line').attr('x1', ex - 6).attr('x2', ex + 6).attr('y1', y0).attr('y2', y0)
  eb.append('line').attr('x1', ex - 6).attr('x2', ex + 6).attr('y1', y1).attr('y2', y1)
  eb.append('line').attr('x1', x0).attr('x2', x0).attr('y1', ey - 5).attr('y2', ey + 5)
  eb.append('line').attr('x1', x1).attr('x2', x1).attr('y1', ey - 5).attr('y2', ey + 5)

  // axes with inward ticks
  const axes = svg.append('g').attr('class', 'axes')
  axes.append('g').attr('transform', `translate(${left},0)`)
    .call(d3.axisLeft(p.y).tickValues(p.ticks).tickSize(-7).tickPadding(8).tickFormat(p.fmt))
  axes.append('g').attr('transform', `translate(${right},0)`)
    .call(d3.axisRight(p.y).tickValues(p.ticks).tickSize(-7).tickFormat(''))
  axes.append('g').attr('transform', `translate(0,${top})`)
    .call(d3.axisTop(x).tickValues(xTicks).tickSize(-7).tickFormat(''))
  axes.append('g').attr('transform', `translate(0,${bottom})`)
    .call(d3.axisBottom(x).tickValues(xTicks).tickSize(-7).tickPadding(11)
      .tickFormat(i === 2 ? d3.format('.1f') : ''))
  axes.selectAll('.domain').remove()
  axes.selectAll('.tick line').attr('stroke', 'black').attr('stroke-width', 1)
  axes.selectAll('text').attr('font-size', 19.5).attr('font-family', '"DejaVu Sans"').attr('fill', 'black')

  svg.append('rect')
    .attr('x', left).attr('y', top).attr('width', right - left).attr('height', bottom - top)
    .attr('fill', 'none').attr('stroke', 'black').attr('stroke-width', 1.8)
})

// ---------- colorbar ----------
const cb = { x0: 129.5, x1: 659, y0: 27.7, y1: 57.7 }
const cbScale = d3.scaleLinear().domain([20, 60]).range([cb.x0, cb.x1])
const grad = defs.append('linearGradient').attr('id', 'jet')
d3.range(0, 1.0001, 0.025).forEach(t => {
  grad.append('stop').attr('offset', t).attr('stop-color', jet(t))
})
svg.append('rect')
  .attr('x', cb.x0).attr('y', cb.y0).attr('width', cb.x1 - cb.x0).attr('height', cb.y1 - cb.y0)
  .attr('fill', 'url(#jet)').attr('stroke', 'black').attr('stroke-width', 1.2)
svg.append('g').selectAll('line').data(cbTicks.slice(1, -1)).enter().append('line')
  .attr('x1', d => cbScale(d)).attr('x2', d => cbScale(d))
  .attr('y1', cb.y1).attr('y2', cb.y1 - 6)
  .attr('stroke', 'black').attr('stroke-width', 1)
svg.append('g').selectAll('text').data(cbTicks).enter().append('text')
  .attr('x', d => cbScale(d)).attr('y', 82)
  .attr('text-anchor', 'middle').attr('font-size', 19.5)
  .text(d => d)

const tLab = svg.append('text').attr('x', (cb.x0 + cb.x1) / 2).attr('y', 110)
  .attr('text-anchor', 'middle').attr('font-size', 16.5)
tLab.append('tspan').text('T')
tLab.append('tspan').attr('dy', 4).attr('font-size', 12.5).attr('font-style', 'italic')
  .attr('font-family', '"DejaVu Serif", serif').text('dust')
tLab.append('tspan').attr('dy', -4).text('[K]')

// ---------- annotations ----------
svg.append('text').attr('x', 124).attr('y', 128).attr('font-size', 20).text('local, da Cunha+2010')
const gl = svg.append('text').attr('x', 124).attr('y', 152).attr('font-size', 20).attr('fill', '#808080')
gl.append('tspan').text('log(M')
gl.append('tspan').attr('dy', 5).attr('font-size', 14).text('∗')
gl.append('tspan').attr('dy', -5).text('/M')
gl.append('tspan').attr('dy', 5).attr('font-size', 14).text('⊙')
gl.append('tspan').attr('dy', -5).text(') > 10.6')

// ---------- axis labels ----------
const labelSize = 36, subSize = 25
const yl1 = svg.append('text').attr('transform', `translate(50,${(edges[0] + edges[1]) / 2}) rotate(-90)`)
  .attr('text-anchor', 'middle').attr('font-size', labelSize)
yl1.append('tspan').text('log(M')
yl1.append('tspan').attr('dy', 8).attr('font-size', subSize).attr('font-style', 'italic')
  .attr('font-family', '"DejaVu Serif", serif').text('dust')
yl1.append('tspan').attr('dy', -8).text('/M*)')

const yl2 = svg.append('text').attr('transform', `translate(50,${(edges[1] + edges[2]) / 2}) rotate(-90)`)
  .attr('text-anchor', 'middle').attr('font-size', labelSize)
yl2.append('tspan').text('log(M')
yl2.append('tspan').attr('dy', 8).attr('font-size', subSize).attr('font-style', 'italic')
  .attr('font-family', '"DejaVu Serif", serif').text('dust')
yl2.append('tspan').attr('dy', -8).text('/SFR[yr')
yl2.append('tspan').attr('dy', -14).attr('font-size', subSize).text('−1')
yl2.append('tspan').attr('dy', 14).text('])')

const yl3 = svg.append('text').attr('transform', `translate(50,${(edges[2] + edges[3]) / 2}) rotate(-90)`)
  .attr('text-anchor', 'middle').attr('font-size', labelSize)
yl3.append('tspan').text('f')
yl3.append('tspan').attr('dy', 8).attr('font-size', subSize).attr('font-style', 'italic')
  .attr('font-family', '"DejaVu Serif", serif').text('μ')

const xl = svg.append('text').attr('x', (left + right) / 2).attr('y', 1222)
  .attr('text-anchor', 'middle').attr('font-size', labelSize)
xl.append('tspan').text('log(sSFR[yr')
xl.append('tspan').attr('dy', -14).attr('font-size', subSize).text('−1')
xl.append('tspan').attr('dy', 14).text('])')
</script>
</body>
</html>
